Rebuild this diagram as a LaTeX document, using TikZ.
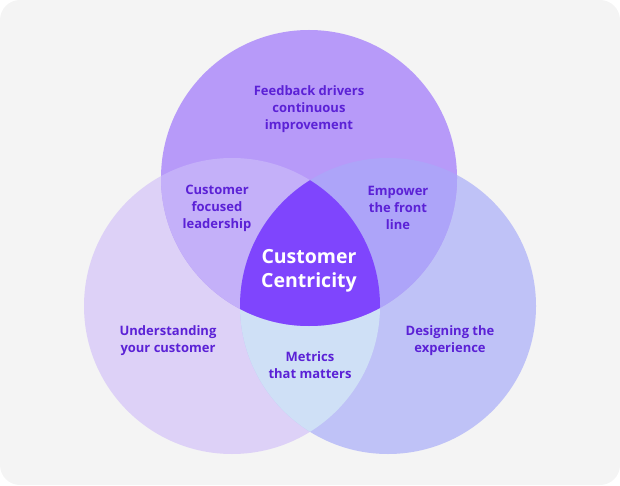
\documentclass[tikz,border=0pt]{standalone}
\usepackage{fontspec}
\setmainfont{Open Sans}
\usepackage{tikz}
\usetikzlibrary{positioning}
\definecolor{bgGray}{HTML}{F4F4F4}
\definecolor{topFill}{HTML}{B79AF9}
\definecolor{leftFill}{HTML}{DDD1F7}
\definecolor{rightFill}{HTML}{BFC2F7}
\definecolor{tlFill}{HTML}{C4B0F9}
\definecolor{trFill}{HTML}{ADA4F9}
\definecolor{lrFill}{HTML}{CFE0F6}
\definecolor{coreFill}{HTML}{7F45FD}
\definecolor{txtPurple}{HTML}{5B21D6}
\newcommand{\topCircle}{(309,178) circle[radius=148pt]}
\newcommand{\leftCircle}{(232,306) circle[radius=148pt]}
\newcommand{\rightCircle}{(388,306) circle[radius=148pt]}

\begin{document}
\begin{tikzpicture}[x=1pt,y=-1pt,
    label/.style={align=center,text=txtPurple,font=\bfseries\fontsize{13}{17}\selectfont},
    core/.style={align=center,text=white,font=\bfseries\fontsize{19.5}{24}\selectfont}
]
\useasboundingbox (0,0) rectangle (620,486);
\fill[bgGray,rounded corners=20pt] (0,0) rectangle (620,485);

% the three circles
\fill[leftFill]  \leftCircle;
\fill[rightFill] \rightCircle;
\fill[topFill]   \topCircle;

% overlaps
\begin{scope}
  \clip \leftCircle;
  \fill[lrFill] \rightCircle;
\end{scope}
\begin{scope}
  \clip \topCircle;
  \fill[tlFill] \leftCircle;
  \fill[trFill] \rightCircle;
  \clip \leftCircle;
  \fill[coreFill] \rightCircle;
\end{scope}

\node[label] (feedback)   at (309,109) {Feedback drivers\\continuous\\improvement};
\node[label] (leadership) at (217,208) {Customer\\focused\\leadership};
\node[label] (empower)    at (398,208) {Empower\\the front\\line};
\node[core]  (centric)    at (309,271) {Customer\\Centricity};
\node[label] (understand) at (168,341) {Understanding\\your customer};
\node[label] (designing)  at (450,341) {Designing the\\experience};
\node[label] (metrics)    at (310,365) {Metrics\\that matters};
\end{tikzpicture}
\end{document}
